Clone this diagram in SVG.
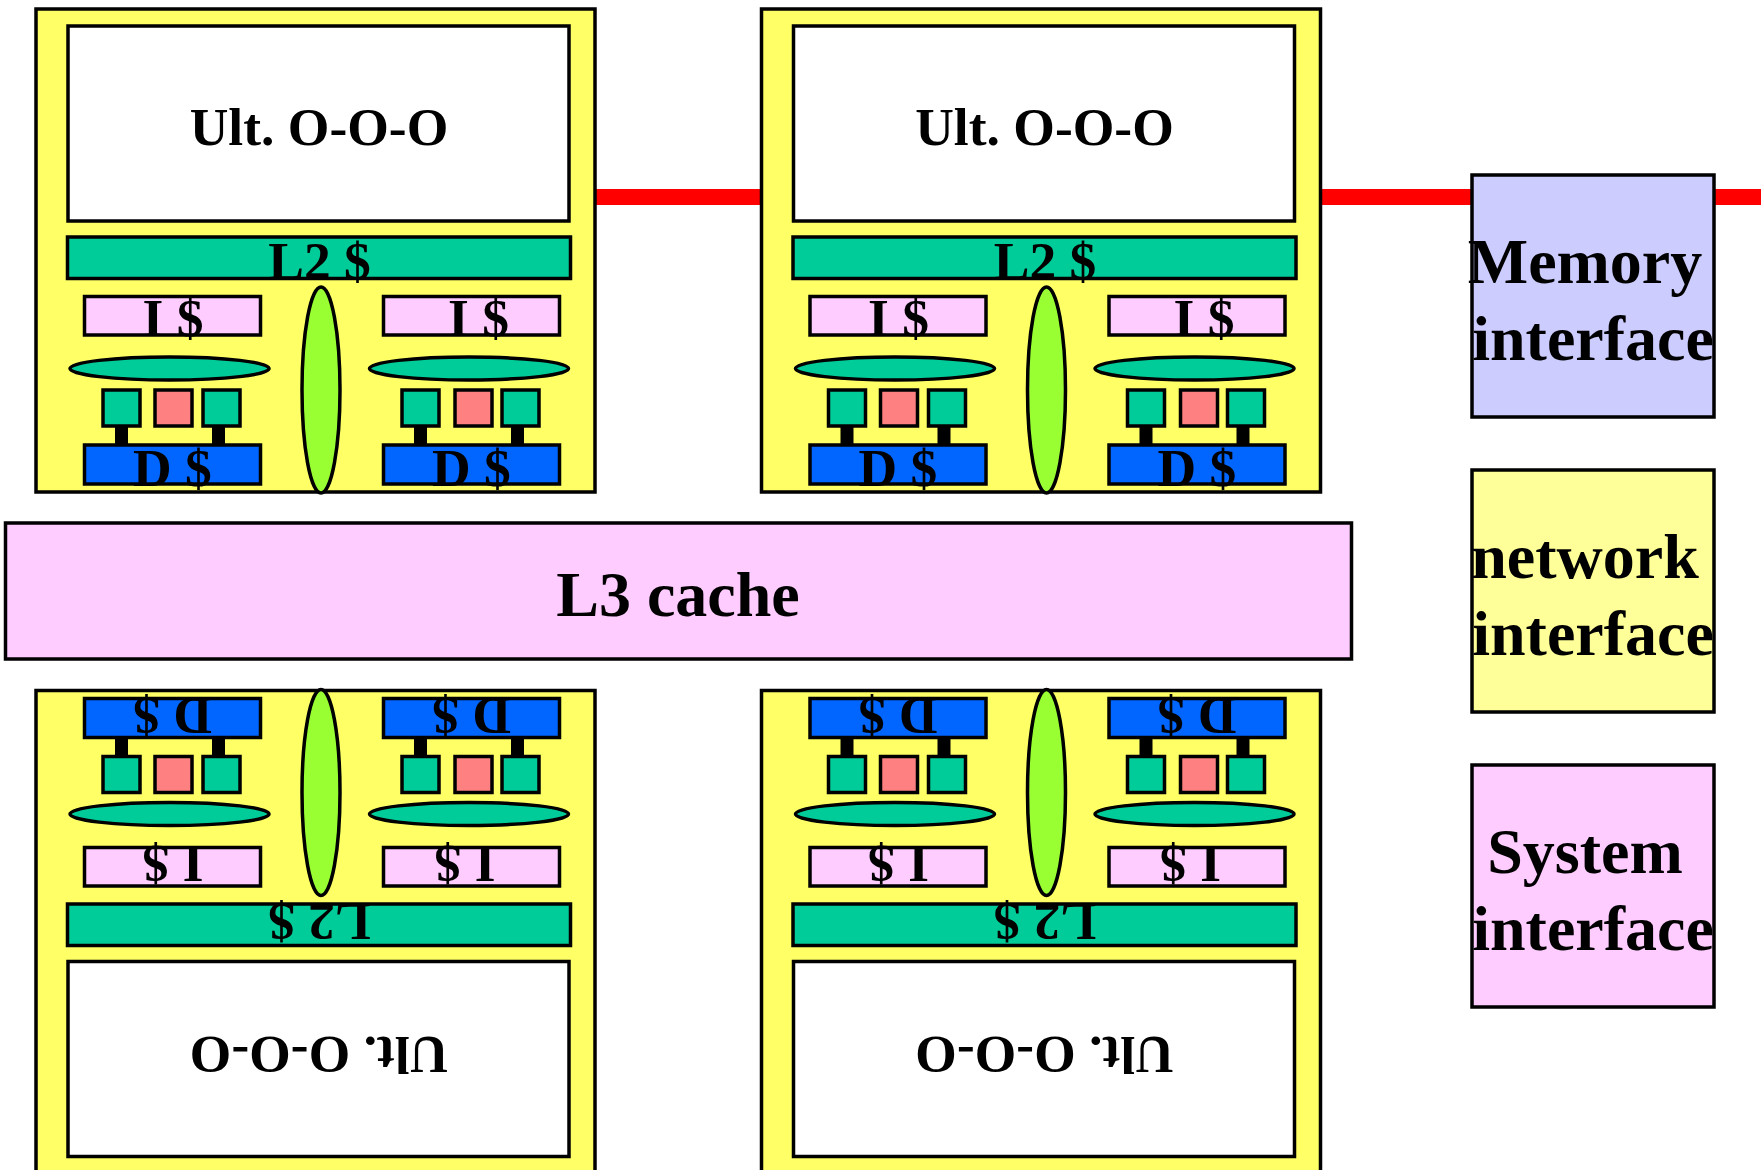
<svg xmlns="http://www.w3.org/2000/svg" width="1761" height="1170" viewBox="0 0 1761 1170">
<style>
.s{stroke:#000;stroke-width:3.500}
.y{fill:#FFFF66}.w{fill:#FFF}.g{fill:#00CC99}.p{fill:#FFCCFF}.b{fill:#0066FF}.r{fill:#FF8080}.l{fill:#99FF33}
text{font-family:"Liberation Serif","Times New Roman",serif;font-weight:bold;fill:#000;text-anchor:middle}
.t{font-size:53.500px}.u{font-size:64px}
</style>
<defs>
<g id="core">
<rect class="s y" x="36" y="9" width="559" height="483"/>
<rect class="s w" x="68" y="26" width="501" height="195"/>
<rect class="s g" x="67.500" y="237" width="503" height="41.500"/>
<rect class="s p" x="84.500" y="296.500" width="176" height="38.500"/>
<rect class="s p" x="383.500" y="296.500" width="176" height="38.500"/>
<ellipse class="s g" cx="169.500" cy="368.500" rx="99.500" ry="11.500"/>
<ellipse class="s g" cx="469" cy="368.500" rx="99.500" ry="11.500"/>
<rect x="115" y="426" width="13" height="20" fill="#000"/>
<rect x="212" y="426" width="13" height="20" fill="#000"/>
<rect x="414" y="426" width="13" height="20" fill="#000"/>
<rect x="511" y="426" width="13" height="20" fill="#000"/>
<rect class="s g" x="103" y="390" width="37" height="36"/>
<rect class="s r" x="155" y="390" width="37" height="36"/>
<rect class="s g" x="203" y="390" width="37" height="36"/>
<rect class="s g" x="402" y="390" width="37" height="36"/>
<rect class="s r" x="455" y="390" width="37" height="36"/>
<rect class="s g" x="502" y="390" width="37" height="36"/>
<rect class="s b" x="84.500" y="445" width="176" height="39"/>
<rect class="s b" x="383.500" y="445" width="176" height="39"/>
<ellipse class="s l" cx="321" cy="390" rx="19" ry="103"/>
</g>
</defs>
<g id="connectors">
<rect x="595" y="189" width="166" height="16" fill="#FF0000"/>
<rect x="1320" y="189" width="441" height="16" fill="#FF0000"/>
</g>
<g id="core-top-left">
<use href="#core"/>
<text class="t" x="319" y="145">Ult. O-O-O</text>
<text class="t" x="319.500" y="279">L2 $</text>
<text class="t" x="173" y="336">I $</text>
<text class="t" x="478.500" y="336">I $</text>
<text class="t" x="172.500" y="485.500">D $</text>
<text class="t" x="471.500" y="485.500">D $</text>
</g>
<g id="core-top-right">
<use href="#core" x="725.500"/>
<text class="t" x="1044.500" y="145">Ult. O-O-O</text>
<text class="t" x="1045" y="279">L2 $</text>
<text class="t" x="898.500" y="336">I $</text>
<text class="t" x="1204" y="336">I $</text>
<text class="t" x="898" y="485.500">D $</text>
<text class="t" x="1197" y="485.500">D $</text>
</g>
<g id="core-bottom-left">
<use href="#core" transform="matrix(1 0 0 -1 0 1182.500)"/>
<text class="t" transform="rotate(180 319 1037)" x="319" y="1037">Ult. O-O-O</text>
<text class="t" transform="rotate(180 319.500 904)" x="319.500" y="904">L2 $</text>
<text class="t" transform="rotate(180 173 846)" x="173" y="846">I $</text>
<text class="t" transform="rotate(180 465 846)" x="465" y="846">I $</text>
<text class="t" transform="rotate(180 172.500 698)" x="172.500" y="698">D $</text>
<text class="t" transform="rotate(180 471.500 698)" x="471.500" y="698">D $</text>
</g>
<g id="core-bottom-right">
<use href="#core" transform="matrix(1 0 0 -1 725.500 1182.500)"/>
<text class="t" transform="rotate(180 1044.500 1037)" x="1044.500" y="1037">Ult. O-O-O</text>
<text class="t" transform="rotate(180 1045 904)" x="1045" y="904">L2 $</text>
<text class="t" transform="rotate(180 898.500 846)" x="898.500" y="846">I $</text>
<text class="t" transform="rotate(180 1190.500 846)" x="1190.500" y="846">I $</text>
<text class="t" transform="rotate(180 898 698)" x="898" y="698">D $</text>
<text class="t" transform="rotate(180 1197 698)" x="1197" y="698">D $</text>
</g>
<g id="l3-cache">
<rect class="s p" x="5.500" y="523" width="1346" height="136"/>
<text class="u" x="678" y="616">L3 cache</text>
</g>
<g id="memory-interface">
<rect class="s" fill="#CCCCFF" x="1472" y="175" width="242" height="242"/>
<text class="u" x="1585" y="283">Memory</text>
<text class="u" x="1593" y="360">interface</text>
</g>
<g id="network-interface">
<rect class="s" fill="#FFFF99" x="1472" y="470" width="242" height="242"/>
<text class="u" x="1585" y="577.500">network</text>
<text class="u" x="1593" y="655">interface</text>
</g>
<g id="system-interface">
<rect class="s p" x="1472" y="765" width="242" height="242"/>
<text class="u" x="1585" y="873">System</text>
<text class="u" x="1593" y="950">interface</text>
</g>
</svg>
